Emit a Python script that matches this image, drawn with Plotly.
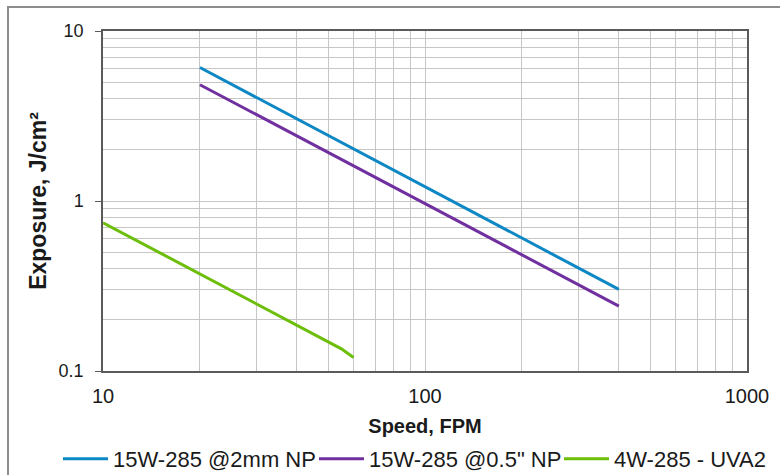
import plotly.graph_objects as go

# ---- data ----
speed_2mm = [20, 50, 100, 200, 400]
exposure_2mm = [6.1, 2.44, 1.22, 0.61, 0.302]

speed_05in = [20, 50, 100, 200, 400]
exposure_05in = [4.83, 1.93, 0.965, 0.483, 0.241]

speed_uva2 = [10, 20, 30, 40, 50, 55, 60]
exposure_uva2 = [0.745, 0.372, 0.249, 0.186, 0.149, 0.135, 0.12]

series_names = ["15W-285 @2mm NP", "15W-285 @0.5\" NP", "4W-285 - UVA2"]
x_tick_vals = [10, 100, 1000]
x_tick_text = ["10", "100", "1000"]
y_tick_vals = [0.1, 1, 10]
y_tick_text = ["0.1", "1", "10"]

colors = ["#0e88c4", "#7030a0", "#6cbe0a"]
FONT = "Liberation Sans, Arial, sans-serif"

W, H = 780, 475
L, R, T, B = 103, 33, 31, 104
pw, ph = W - L - R, H - T - B

legend_ids = ["legend", "legend2", "legend3"]
legend_left_px = [58, 314, 559]

fig = go.Figure()
for xs, ys, name, c, lg in zip([speed_2mm, speed_05in, speed_uva2],
                               [exposure_2mm, exposure_05in, exposure_uva2],
                               series_names, colors, legend_ids):
    fig.add_trace(go.Scatter(x=xs, y=ys, name=name, mode="lines",
                             line=dict(color=c, width=3), legend=lg))

grid_c = "#c6c6c6"
axis_c = "#5a5a5a"
txt_c = "#1a1a1a"

fig.update_xaxes(type="log", range=[1, 3], automargin=False,
                 tickvals=x_tick_vals, ticktext=x_tick_text,
                 tickfont=dict(family=FONT, size=20, color=txt_c),
                 showgrid=True, gridcolor=grid_c, gridwidth=1,
                 minor=dict(dtick="D1", showgrid=True, gridcolor=grid_c, gridwidth=1, ticks=""),
                 showline=True, linecolor=axis_c, linewidth=1.5, mirror=True,
                 ticks="", ticklabelstandoff=6, zeroline=False,
                 title=dict(text="<b>Speed, FPM</b>", font=dict(family=FONT, size=20, color=txt_c),
                            standoff=13))
fig.update_yaxes(type="log", range=[-1, 1], automargin=False,
                 tickvals=y_tick_vals, ticktext=y_tick_text,
                 tickfont=dict(family=FONT, size=18, color=txt_c),
                 showgrid=True, gridcolor=grid_c, gridwidth=1,
                 minor=dict(dtick="D1", showgrid=True, gridcolor=grid_c, gridwidth=1, ticks=""),
                 showline=True, linecolor=axis_c, linewidth=1.5, mirror=True,
                 ticks="outside", ticklen=6, tickcolor=axis_c, ticklabelstandoff=8,
                 zeroline=False,
                 title=dict(text="<b>Exposure, J/cm²</b>", font=dict(family=FONT, size=23, color=txt_c),
                            standoff=6))

fig.add_shape(type="rect", xref="paper", yref="paper",
              x0=(8 - L) / pw, x1=(783 - L) / pw,
              y0=(ph + T - 478) / ph, y1=(ph + T - 7) / ph,
              line=dict(color="#8c8c8c", width=2), fillcolor="rgba(0,0,0,0)", layer="below")

legend_common = dict(orientation="h", xref="container", yref="container",
                     xanchor="left", yanchor="middle", y=1 - 459 / H,
                     font=dict(family=FONT, size=22, color=txt_c),
                     itemwidth=45, bgcolor="rgba(0,0,0,0)", borderwidth=0)
legend_layout = {}
for lg, xpx in zip(legend_ids, legend_left_px):
    legend_layout[lg] = dict(legend_common, x=xpx / W)

fig.update_layout(
    width=W, height=H,
    margin=dict(l=L, r=R, t=T, b=B, autoexpand=False),
    paper_bgcolor="white", plot_bgcolor="white",
    font=dict(family=FONT, color=txt_c),
    showlegend=True,
    hovermode=False,
    **legend_layout,
)

fig.write_html("out.html", config={"displayModeBar": False, "staticPlot": False},
               post_script="document.body.style.margin='0';document.body.style.overflow='hidden';")
